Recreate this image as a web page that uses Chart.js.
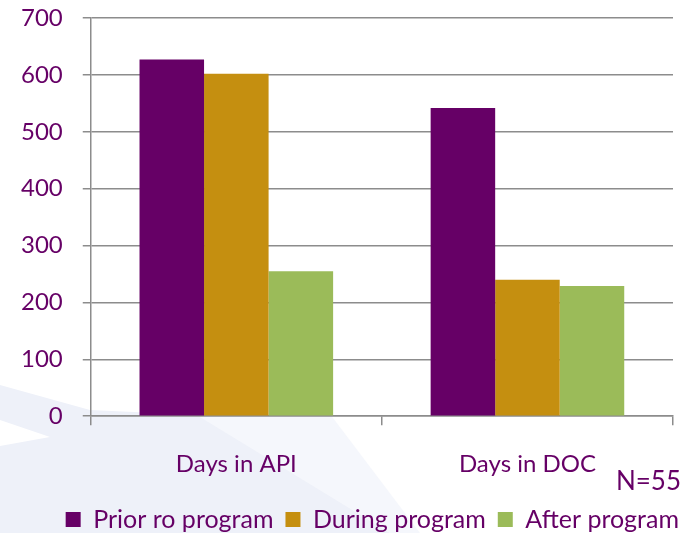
<!DOCTYPE html>
<html>
<head>
<meta charset="utf-8">
<script src="https://cdn.jsdelivr.net/npm/chart.js@4"></script>
<style>
html,body{margin:0;padding:0;background:#fff;}
#wrap{width:698px;height:533px;position:relative;}
</style>
</head>
<body>
<div id="wrap"><canvas id="c" width="698" height="533"></canvas></div>
<script>
const categories = ["Days in API", "Days in DOC"];
const seriesNames = ["Prior ro program", "During program", "After program"];
const priorValues = [627, 542];
const duringValues = [602, 240];
const afterValues = [255, 229];
const yTicks = [0, 100, 200, 300, 400, 500, 600, 700];
const noteText = "N=55";

const colors = ["#660066", "#C58F10", "#9BBB59"];
const textColor = "#660066";
const fontFamily = "Lato, 'Open Sans', sans-serif";

const bgPlugin = {
  id: 'bg',
  beforeDraw(chart) {
    const ctx = chart.ctx;
    ctx.save();
    ctx.fillStyle = '#fff';
    ctx.fillRect(0, 0, chart.width, chart.height);
    ctx.fillStyle = '#eef1f9';
    ctx.beginPath();
    ctx.moveTo(0, 385); ctx.lineTo(90, 410); ctx.lineTo(200, 415); ctx.lineTo(390, 533); ctx.lineTo(0, 533); ctx.closePath(); ctx.fill();
    ctx.fillStyle = '#ffffff';
    ctx.beginPath();
    ctx.moveTo(0, 420); ctx.lineTo(50, 437); ctx.lineTo(0, 446); ctx.closePath(); ctx.fill();
    ctx.fillStyle = '#f5f7fc';
    ctx.beginPath();
    ctx.moveTo(195, 414); ctx.lineTo(330, 414); ctx.lineTo(420, 533); ctx.lineTo(390, 533); ctx.closePath(); ctx.fill();
    ctx.restore();
  }
};

const notePlugin = {
  id: 'note',
  afterLayout(chart) {
    if (chart.legend) { chart.legend.left += 18; chart.legend.right += 18; }
  },
  afterDraw(chart) {
    const ctx = chart.ctx;
    ctx.save();
    ctx.font = "26px " + fontFamily;
    ctx.fillStyle = textColor;
    ctx.textAlign = 'right';
    ctx.textBaseline = 'middle';
    ctx.fillText(noteText, 681, 482);
    ctx.restore();
  }
};

new Chart(document.getElementById('c'), {
  type: 'bar',
  data: {
    labels: categories,
    datasets: [
      { label: seriesNames[0], data: priorValues, backgroundColor: colors[0] },
      { label: seriesNames[1], data: duringValues, backgroundColor: colors[1] },
      { label: seriesNames[2], data: afterValues, backgroundColor: colors[2] }
    ]
  },
  options: {
    responsive: false,
    animation: false,
    devicePixelRatio: 1,
    layout: { padding: { left: 1, right: 25, top: 18, bottom: -9 } },
    datasets: { bar: { categoryPercentage: 0.665, barPercentage: 1.0 } },
    plugins: {
      legend: {
        position: 'bottom',
        align: 'end',
        labels: {
          color: textColor,
          font: { family: fontFamily, size: 25 },
          boxWidth: 15, boxHeight: 15, padding: 12
        }
      },
      tooltip: { enabled: false }
    },
    scales: {
      x: {
        afterFit(scale) { scale.height = scale.height - 9; },
        grid: { display: true, drawOnChartArea: false, offset: true, color: '#8c8c8c', lineWidth: 1.5, tickLength: 9 },
        border: { color: '#8c8c8c', width: 1.5 },
        ticks: { color: textColor, font: { family: fontFamily, size: 24 }, padding: 25 }
      },
      y: {
        min: 0, max: 700,
        afterBuildTicks(scale) { scale.ticks = yTicks.map(v => ({ value: v })); },
        afterFit(scale) { scale.paddingTop = 0; scale.paddingBottom = 0; },
        grid: { color: '#8c8c8c', lineWidth: 1.5, tickLength: 8 },
        border: { color: '#8c8c8c', width: 1.5 },
        ticks: { color: textColor, font: { family: fontFamily, size: 24 }, padding: 20 }
      }
    }
  },
  plugins: [bgPlugin, notePlugin]
});
</script>
</body>
</html>
